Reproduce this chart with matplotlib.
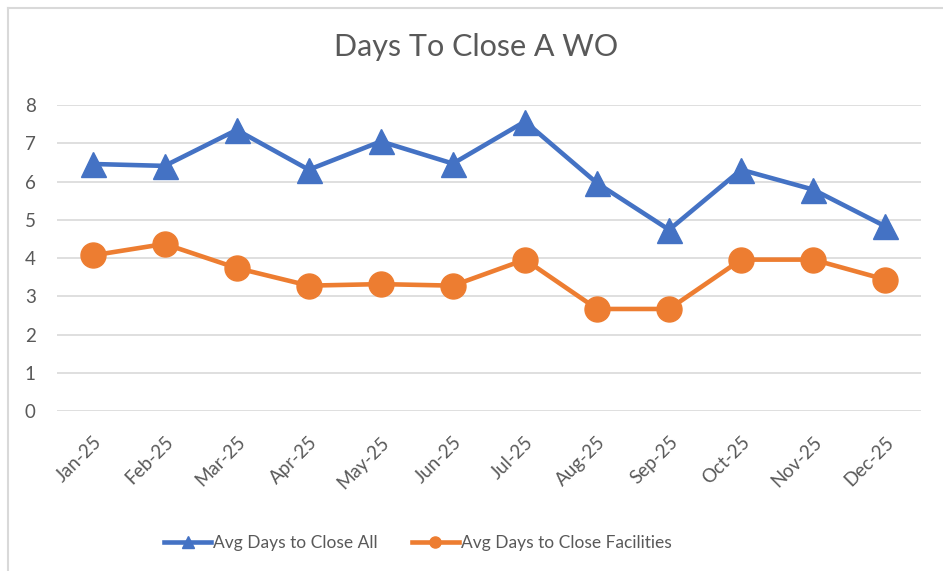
import matplotlib
matplotlib.use("Agg")
import matplotlib.pyplot as plt
from matplotlib.lines import Line2D

# chart data
months = ["Jan-25", "Feb-25", "Mar-25", "Apr-25", "May-25", "Jun-25",
          "Jul-25", "Aug-25", "Sep-25", "Oct-25", "Nov-25", "Dec-25"]
avgAll = [6.46, 6.41, 7.35, 6.31, 7.05, 6.47, 7.57, 5.96, 4.74, 6.31, 5.79, 4.83]
avgFacilities = [4.07, 4.37, 3.74, 3.28, 3.32, 3.28, 3.96, 2.67, 2.67, 3.96, 3.96, 3.44]
yTicks = [0, 1, 2, 3, 4, 5, 6, 7, 8]

BLUE = "#4472C4"
ORANGE = "#ED7D31"
TEXT = "#595959"

plt.rcParams["font.family"] = ["Lato", "DejaVu Sans"]

fig = plt.figure(figsize=(9.43, 5.71), dpi=100)
ax = fig.add_axes([0.060, 0.280, 0.917, 0.536])

x = list(range(len(months)))
ax.plot(x, avgAll, color=BLUE, lw=3.3, marker="^", ms=18, label="Avg Days to Close All", zorder=3)
ax.plot(x, avgFacilities, color=ORANGE, lw=3.3, marker="o", ms=18, label="Avg Days to Close Facilities", zorder=3)

ax.set_xlim(-0.5, len(months) - 0.5)
ax.set_ylim(0, 8)
ax.set_yticks(yTicks)
ax.set_xticks(x)
ax.set_xticklabels(months, rotation=45, ha="right", rotation_mode="anchor")
ax.tick_params(axis="both", length=0, labelsize=13.5, labelcolor=TEXT)
ax.tick_params(axis="y", pad=15)
ax.tick_params(axis="x", pad=16)
ax.grid(axis="y", color="#D9D9D9", lw=1.2)
ax.set_axisbelow(True)
for s in ax.spines.values():
    s.set_visible(False)

fig.text(0.505, 0.918, "Days To Close A WO", ha="center", va="center", fontsize=22, color=TEXT)

handles = [Line2D([0], [0], color=BLUE, lw=3.3, marker="^", ms=8),
           Line2D([0], [0], color=ORANGE, lw=3.3, marker="o", ms=8)]
fig.legend(handles, ["Avg Days to Close All", "Avg Days to Close Facilities"],
           loc="center", bbox_to_anchor=(0.443, 0.049), ncol=2, frameon=False,
           fontsize=12.5, labelcolor=TEXT, handlelength=2.7, handletextpad=0.1,
           columnspacing=2.0)

# partial chart border (top and left edges)
fig.add_artist(Line2D([0.0085, 1.0], [0.986, 0.986], transform=fig.transFigure, color="#D9D9D9", lw=1.5))
fig.add_artist(Line2D([0.0085, 0.0085], [0.0, 0.986], transform=fig.transFigure, color="#D9D9D9", lw=1.5))

fig.savefig("out.png", dpi=100)
